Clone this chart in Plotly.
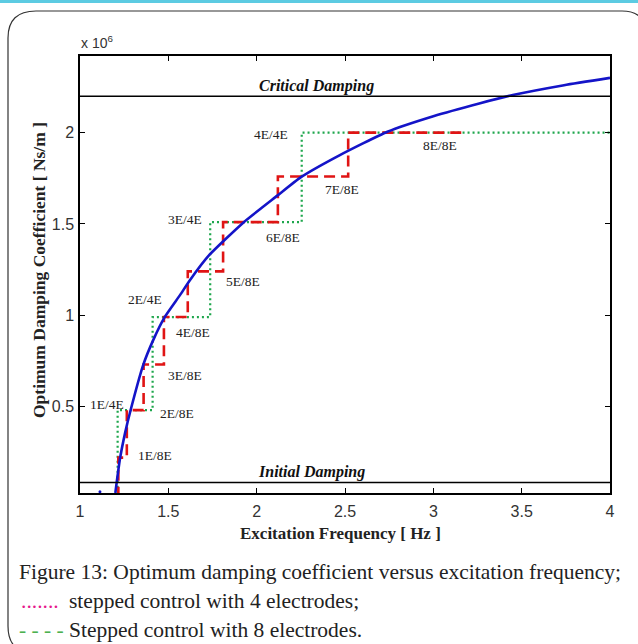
import plotly.graph_objects as go

# ---- data ----
freq_curve = [1.20, 1.226, 1.255, 1.287, 1.358, 1.415, 1.481, 1.566, 1.623, 1.732,
              1.924, 2.117, 2.249, 2.471, 2.74, 3.0, 3.26, 3.45, 3.74, 4.0]
damp_curve = [0.026, 0.212, 0.354, 0.482, 0.728, 0.865, 0.992, 1.11, 1.193, 1.33,
              1.507, 1.655, 1.755, 1.877, 2.005, 2.09, 2.16, 2.206, 2.26, 2.30]
stray_x = [1.113]
stray_y = [0.033]

step8_x = [1.217, 1.217, 1.265, 1.36, 1.475, 1.61, 1.81, 2.12, 2.518, 3.17]
step8_y = [0.0, 0.22, 0.48, 0.73, 0.99, 1.24, 1.51, 1.76, 2.0, 2.0]

step4_x = [1.213, 1.213, 1.411, 1.737, 2.255, 4.0]
step4_y = [0.0, 0.48, 0.99, 1.51, 2.0, 2.0]

critical_damping = 2.2
initial_damping = 0.084

label_text = ["4E/4E", "8E/8E", "7E/8E", "3E/4E", "6E/8E", "5E/8E", "2E/4E",
              "4E/8E", "3E/8E", "1E/4E", "2E/8E", "1E/8E"]
label_x = [2.083, 3.037, 2.484, 1.594, 2.151, 1.924, 1.368, 1.641, 1.594, 1.153, 1.547, 1.424]
label_y = [1.99, 1.928, 1.686, 1.525, 1.427, 1.184, 1.084, 0.905, 0.668, 0.509, 0.46, 0.232]

x_ticks = [1, 1.5, 2, 2.5, 3, 3.5, 4]
y_ticks = [0.5, 1, 1.5, 2]
x_range = [1, 4]
y_range = [0.026, 2.42]

caption_title = "Figure 13: Optimum damping coefficient versus excitation frequency;"
caption_4 = "stepped control with 4 electrodes;"
caption_8 = "Stepped control with 8 electrodes."

# ---- geometry helpers (pixel -> paper) ----
W, H = 638, 644
L, R, T, B = 80, 28, 56, 151
PW, PH = W - L - R, H - T - B


def px(x):
    return (x - L) / PW


def py(y):
    return (H - B - y) / PH


fig = go.Figure()

fig.add_trace(go.Scatter(x=step4_x, y=step4_y, mode="lines", line_shape="hv",
                         line=dict(color="#1ea64c", width=2.2, dash="2px,3px"),
                         hoverinfo="skip", showlegend=False))
fig.add_trace(go.Scatter(x=step8_x, y=step8_y, mode="lines", line_shape="hv",
                         line=dict(color="#e01414", width=2.6, dash="11px,6px"),
                         hoverinfo="skip", showlegend=False))
fig.add_trace(go.Scatter(x=freq_curve, y=damp_curve, mode="lines",
                         line=dict(color="#1414c8", width=2.6, shape="spline", smoothing=0.5),
                         hoverinfo="skip", showlegend=False))
fig.add_trace(go.Scatter(x=stray_x, y=stray_y, mode="markers",
                         marker=dict(color="#1414c8", size=3),
                         hoverinfo="skip", showlegend=False))
fig.add_trace(go.Scatter(x=x_range, y=[critical_damping] * 2, mode="lines",
                         line=dict(color="black", width=1.5), hoverinfo="skip", showlegend=False))
fig.add_trace(go.Scatter(x=x_range, y=[initial_damping] * 2, mode="lines",
                         line=dict(color="black", width=1.5), hoverinfo="skip", showlegend=False))

serif = "Liberation Serif, Times New Roman, serif"
ann = []
for t, x, y in zip(label_text, label_x, label_y):
    ann.append(dict(x=x, y=y, xref="x", yref="y", text=t, showarrow=False,
                    xanchor="center", yanchor="middle",
                    font=dict(family=serif, size=13.5, color="#222")))

ann.append(dict(x=2.34, y=critical_damping, xref="x", yref="y", yanchor="bottom", yshift=-1,
                text="<b><i>Critical Damping</i></b>", showarrow=False,
                font=dict(family=serif, size=16, color="#111")))
ann.append(dict(x=2.31, y=initial_damping, xref="x", yref="y", yanchor="bottom", yshift=-1,
                text="<b><i>Initial Damping</i></b>", showarrow=False,
                font=dict(family=serif, size=16, color="#111")))

ann.append(dict(x=px(79), y=py(42), xref="paper", yref="paper", xanchor="left", yanchor="middle",
                text="x 10<sup>6</sup>", showarrow=False,
                font=dict(family="Liberation Sans", size=14, color="#333")))
ann.append(dict(x=px(340), y=py(533), xref="paper", yref="paper", xanchor="center", yanchor="middle",
                text="<b>Excitation Frequency [ Hz ]</b>", showarrow=False,
                font=dict(family=serif, size=17, color="#222")))
ann.append(dict(x=px(39), y=py(270), xref="paper", yref="paper", textangle=-90,
                xanchor="center", yanchor="middle",
                text="<b>Optimum Damping Coefficient [ Ns/m ]</b>", showarrow=False,
                font=dict(family=serif, size=17.5, color="#222")))

ann.append(dict(x=px(17), y=py(572), xref="paper", yref="paper", xanchor="left", yanchor="middle",
                text=caption_title, showarrow=False,
                font=dict(family=serif, size=21.5, color="#222")))
ann.append(dict(x=px(19), y=py(601), xref="paper", yref="paper", xanchor="left", yanchor="middle",
                text=".......", showarrow=False,
                font=dict(family=serif, size=21.5, color="#e6188c")))
ann.append(dict(x=px(67), y=py(601), xref="paper", yref="paper", xanchor="left", yanchor="middle",
                text=caption_4, showarrow=False,
                font=dict(family=serif, size=21.5, color="#222")))
ann.append(dict(x=px(17), y=py(630), xref="paper", yref="paper", xanchor="left", yanchor="middle",
                text="- - - -", showarrow=False,
                font=dict(family=serif, size=21.5, color="#4cb050")))
ann.append(dict(x=px(67), y=py(630), xref="paper", yref="paper", xanchor="left", yanchor="middle",
                text=caption_8, showarrow=False,
                font=dict(family=serif, size=21.5, color="#222")))

frame_path = (f"M {px(32)},{py(652)} Q {px(8)},{py(652)} {px(8)},{py(626)} "
              f"L {px(8)},{py(38)} Q {px(8)},{py(11)} {px(36)},{py(11)} "
              f"L {px(622)},{py(11)} Q {px(648)},{py(11)} {px(648)},{py(40)}")
shapes = [
    dict(type="path", xref="paper", yref="paper", path=frame_path,
         line=dict(color="#333", width=1.2)),
    dict(type="rect", xref="paper", yref="paper", x0=px(0), x1=px(W), y0=py(0), y1=py(3),
         line=dict(width=0), fillcolor="#5ccbe2"),
]

axis_common = dict(showgrid=False, zeroline=False, showline=True, linecolor="black",
                   linewidth=1.5, mirror="ticks", ticks="inside", ticklen=5,
                   tickcolor="black", tickwidth=1,
                   tickfont=dict(family="Liberation Sans", size=16, color="#333"))

fig.update_layout(
    width=W, height=H,
    margin=dict(l=L, r=R, t=T, b=B),
    paper_bgcolor="white", plot_bgcolor="white",
    xaxis=dict(range=x_range, tickvals=x_ticks, ticktext=[f"{v:g}" for v in x_ticks],
               ticklabelstandoff=3, **axis_common),
    yaxis=dict(range=y_range, tickvals=y_ticks, ticktext=[f"{v:g}" for v in y_ticks],
               ticklabelstandoff=1, **axis_common),
    annotations=ann, shapes=shapes, showlegend=False,
)

fig.write_html("out.html")
